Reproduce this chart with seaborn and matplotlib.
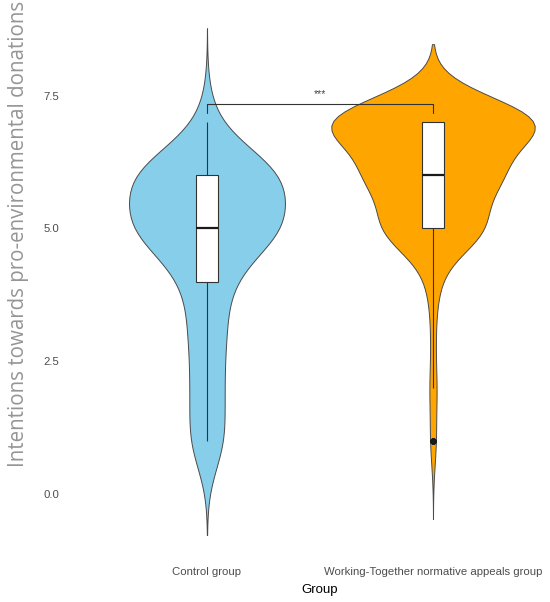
import numpy as np
import pandas as pd
import matplotlib
matplotlib.use("Agg")
import matplotlib.pyplot as plt
import seaborn as sns

# Data (responses on a 1-7 scale, counts per level)
groups = ["Control group", "Working-Together normative appeals group"]
score_levels = [1, 2, 3, 4, 5, 6, 7]
control_counts = [26, 23, 26, 32, 110, 111, 10]
appeal_counts = [5, 6, 4, 10, 86, 109, 185]
group_colors = ["#87CEEB", "#FFA500"]
bandwidths = [0.59, 0.49]   # kde bandwidth on the score scale
max_widths = [0.69, 0.90]   # widest part of each violin
yticks = [0.0, 2.5, 5.0, 7.5]
sig_label = "***"
sig_y = 7.35
sig_tip = 0.18

df = pd.DataFrame({
    "Group": np.repeat(groups, [sum(control_counts), sum(appeal_counts)]),
    "Score": np.concatenate([np.repeat(score_levels, control_counts),
                             np.repeat(score_levels, appeal_counts)]),
})

sns.set_theme(style="white")
plt.rcParams["font.family"] = ["Liberation Sans", "DejaVu Sans"]

fig = plt.figure(figsize=(5.5, 6.02), dpi=100)
ax = fig.add_axes([0.1298, 0.0689, 0.904, 0.931])

# one violin per call so each group keeps its own bandwidth
for grp, col, bw, w in zip(groups, group_colors, bandwidths, max_widths):
    sub = df[df["Group"] == grp]
    sns.violinplot(data=sub, x="Group", y="Score", order=groups, color=col,
                   saturation=1, bw_method=bw / sub["Score"].std(), cut=3,
                   width=w, inner=None, linewidth=0.7, linecolor="#4a4a4a", ax=ax)

sns.boxplot(data=df, x="Group", y="Score", order=groups, width=0.1,
            color="white", saturation=1, linecolor="#333333", linewidth=0.8,
            showcaps=False, whis=1.5,
            medianprops=dict(color="#1a1a1a", linewidth=1.6),
            flierprops=dict(marker="o", markerfacecolor="#1a1a1a",
                            markeredgecolor="#1a1a1a", markersize=3.5),
            ax=ax)

# significance bracket
ax.plot([0, 0, 1, 1], [sig_y - sig_tip, sig_y, sig_y, sig_y - sig_tip],
        color="#333333", lw=0.8)
ax.text(0.5, sig_y + 0.08, sig_label, ha="center", va="bottom",
        fontsize=7.5, color="#444444")

ax.set_xlim(-0.6, 1.6)
ax.set_ylim(-1.25, 9.3)
ax.set_yticks(yticks)
ax.set_yticklabels([f"{t:.1f}" for t in yticks])
ax.grid(False)
sns.despine(ax=ax, left=True, bottom=True)
ax.tick_params(axis="both", length=0, labelsize=8.2, labelcolor="#4D4D4D")
ax.tick_params(axis="y", pad=9)
ax.tick_params(axis="x", pad=5)

ax.set_xlabel("Group", fontsize=9.5, color="black", va="center")
ax.xaxis.set_label_coords(0.5, -0.053)
ax.set_ylabel("Intentions towards pro-environmental donations", fontsize=14.8,
              color="#959595", va="center",
              family=["Open Sans", "Liberation Sans", "DejaVu Sans"])
ax.yaxis.set_label_coords(-0.107, 0.582)

fig.savefig("out.png", dpi=100)
